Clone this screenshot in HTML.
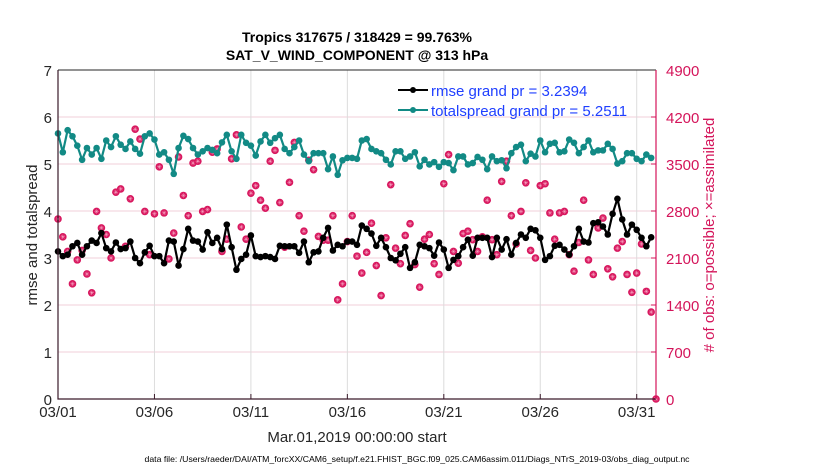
<!DOCTYPE html>
<html><head><meta charset="utf-8"><style>
body{margin:0;background:#fff;}
svg text{font-family:"Liberation Sans",Arial,sans-serif;}
</style></head><body>
<svg id="chart" width="830" height="470" viewBox="0 0 830 470" xmlns="http://www.w3.org/2000/svg">
<rect width="830" height="470" fill="#fff"/>
<text x="357" y="42" font-size="14" font-weight="bold" text-anchor="middle" fill="#000">Tropics 317675 / 318429 = 99.763%</text>
<text x="357" y="60" font-size="14" font-weight="bold" text-anchor="middle" fill="#000">SAT_V_WIND_COMPONENT @ 313 hPa</text>
<g id="grid"></g>
<g id="marks"></g>
<g id="axes"></g>
<text transform="translate(37,235) rotate(-90)" font-size="15" text-anchor="middle" fill="#262626">rmse and totalspread</text>
<text transform="translate(714,235) rotate(-90)" font-size="15" text-anchor="middle" fill="#d4145a"># of obs: o=possible; ×=assimilated</text>
<text x="357" y="442" font-size="15" text-anchor="middle" fill="#262626">Mar.01,2019 00:00:00 start</text>
<text x="417" y="462" font-size="8.4" text-anchor="middle" fill="#000" textLength="545" lengthAdjust="spacingAndGlyphs">data file: /Users/raeder/DAI/ATM_forcXX/CAM6_setup/f.e21.FHIST_BGC.f09_025.CAM6assim.011/Diags_NTrS_2019-03/obs_diag_output.nc</text>
<g>
<line x1="398" y1="90" x2="428" y2="90" stroke="#000" stroke-width="2"/>
<circle cx="413" cy="90" r="3" fill="#000"/>
<text x="431" y="96" font-size="15" fill="#1f3fff">rmse grand pr = 3.2394</text>
<line x1="398" y1="110" x2="428" y2="110" stroke="#128a85" stroke-width="2"/>
<circle cx="413" cy="110" r="3" fill="#128a85"/>
<text x="431" y="116" font-size="15" fill="#1f3fff">totalspread grand pr = 5.2511</text>
</g>
</svg>
<script>
const xTickLabels = ["03/01","03/06","03/11","03/16","03/21","03/26","03/31"];
const xTickDays = [0,5,10,15,20,25,30];
const yLeftTicks = [0,1,2,3,4,5,6,7];
const yRightTicks = [0,700,1400,2100,2800,3500,4200,4900];
const timeStepDays = 0.25;
const rmse = [3.14,3.04,3.07,3.25,3.32,3.07,3.25,3.37,3.32,3.53,3.21,3.14,3.33,3.19,3.21,3.35,3.0,2.89,3.12,3.26,
3.04,3.04,2.89,3.37,3.35,2.84,3.19,3.62,3.37,3.35,3.18,3.55,3.32,3.43,3.19,3.71,3.23,2.75,2.98,3.07,
3.48,3.04,3.02,3.04,3.02,2.98,3.26,3.25,3.25,3.25,3.11,3.35,2.91,3.12,3.14,3.43,3.64,3.16,3.28,3.25,
3.35,3.35,3.28,3.69,3.62,3.52,3.26,3.43,3.23,3.0,2.95,3.09,3.23,2.79,2.91,3.28,3.25,3.21,3.05,3.33,
3.18,2.79,2.96,3.04,3.23,3.39,3.05,3.43,3.43,3.43,3.02,3.43,3.18,3.40,3.07,3.32,3.50,3.43,3.62,3.59,
3.43,2.96,3.04,3.26,3.28,3.18,3.07,3.25,3.62,3.35,3.33,3.74,3.76,3.67,3.50,3.94,4.26,3.82,3.50,3.71,
3.60,3.43,3.25,3.44];
const totalspread = [5.65,5.25,5.72,5.59,5.39,5.09,5.34,5.2,5.34,5.11,5.5,5.36,5.59,5.41,5.32,5.48,5.32,5.22,5.59,5.65,
5.52,5.2,5.25,5.09,4.79,5.34,5.6,5.53,5.34,5.2,5.27,5.34,5.3,5.23,5.46,5.62,5.27,5.11,5.62,5.45,
5.39,5.18,5.48,5.62,5.45,5.55,5.62,5.32,5.23,5.36,5.5,5.2,5.06,5.23,5.23,5.23,4.89,5.16,4.77,5.08,
5.13,5.13,5.11,5.5,5.53,5.32,5.27,5.23,5.09,4.99,5.27,5.27,5.11,5.16,5.25,4.95,5.09,4.99,5.04,4.94,
5.04,5.02,4.87,5.16,5.16,4.99,5.02,5.15,5.09,4.89,5.16,5.06,5.08,4.91,5.23,5.36,5.41,5.06,5.22,5.16,
5.5,5.25,5.43,5.45,5.25,5.27,5.52,5.45,5.23,5.36,5.5,5.25,5.29,5.29,5.43,5.32,5.01,5.06,5.23,5.23,
5.11,5.06,5.2,5.13];
const obsCount = [2681,2415,2198,1715,2072,2212,1862,1582,2793,2548,2450,2100,3080,3129,2275,2982,4018,3871,2793,2149,
2758,3458,2772,2086,2471,3605,3031,2730,3514,3542,2793,2821,3675,3724,2198,2380,3577,3934,2562,2380,
3066,3178,2961,2842,3542,3703,2926,2261,3227,3822,2730,2499,3556,3416,2422,2366,2366,2730,1477,1715,
2345,2730,2128,1876,2184,2618,1988,1540,2401,3192,2247,2016,2436,2611,2002,1666,2380,2450,2016,1855,
3206,3640,2198,2023,2464,2499,2373,2198,2415,2961,2373,2149,3241,3542,2730,2310,2793,3220,2212,2100,
3178,3206,2772,2380,2772,2793,2149,1904,2331,2961,2072,1855,2548,2695,1939,1820,2247,2345,1855,1589,
1876,2310,1603,1295,0];

const L=58,R=656,T=70,B=399;
const xs=d=>L+(R-L)*d/31;
const yl=v=>B-(B-T)*v/7;
const yr=v=>B-(B-T)*v/4900;
const NS="http://www.w3.org/2000/svg";
function mk(tag,attrs,parent){const e=document.createElementNS(NS,tag);for(const k in attrs)e.setAttribute(k,attrs[k]);parent.appendChild(e);return e;}
const grid=document.getElementById('grid'),marks=document.getElementById('marks'),axes=document.getElementById('axes');
yLeftTicks.forEach((v,i)=>{
  const g=mk('line',{x1:L,x2:R,y1:yl(v),y2:yl(v),stroke:'#f2cfda','stroke-width':1},grid);
  
  
  const t=mk('text',{x:L-6,y:yl(v)+6,'font-size':15,'text-anchor':'end',fill:'#262626'},axes);
  t.textContent=v;
  
  
  const rt=mk('line',{x1:R-5,x2:R,y1:yr(yRightTicks[i]),y2:yr(yRightTicks[i]),stroke:'#d4145a'},axes);
  
  
  const t2=mk('text',{x:R+10,y:yr(yRightTicks[i])+6,'font-size':15,fill:'#d4145a'},axes);
  t2.textContent=yRightTicks[i];
  
  
});
xTickDays.forEach((d,i)=>{
  const g=mk('line',{x1:xs(d),x2:xs(d),y1:T,y2:B,stroke:'#dcdcdc'},grid);
  
  
  const tk=mk('line',{x1:xs(d),x2:xs(d),y1:B,y2:B-5,stroke:'#3a1a2a'},axes);
  
  
  const t=mk('text',{x:xs(d),y:B+18,'font-size':15,'text-anchor':'middle',fill:'#262626'},axes);
  t.textContent=xTickLabels[i];
  
  
});
const ax1=mk('path',{d:`M${L},${T}V${B}H${R}`,fill:'none',stroke:'#3a1a2a','stroke-width':1.2},axes);


const ax2=mk('line',{x1:L,x2:R,y1:T,y2:T,stroke:'#262626'},axes);


const ax3=mk('line',{x1:R,x2:R,y1:T,y2:B,stroke:'#d4145a','stroke-width':1.2},axes);



obsCount.forEach((v,i)=>{
  const cx=xs(i*timeStepDays),cy=yr(v);
  const g=mk('g',{},marks);
  
  
  mk('circle',{cx:cx,cy:cy,r:3.8,fill:'#d8185f'},g);
  mk('path',{d:`M${cx-2.2},${cy}H${cx+2.2}M${cx},${cy-2.2}V${cy+2.2}M${cx-1.6},${cy-1.6}L${cx+1.6},${cy+1.6}M${cx-1.6},${cy+1.6}L${cx+1.6},${cy-1.6}`,stroke:'#f7a8c4','stroke-width':0.5},g);
});
function series(vals,color,name){
  const d=vals.map((v,i)=>(i?'L':'M')+xs(i*timeStepDays).toFixed(1)+','+yl(v).toFixed(1)).join('');
  const p=mk('path',{d:d,fill:'none',stroke:color,'stroke-width':2.2,'stroke-linejoin':'round'},marks);
  
  
  vals.forEach((v,i)=>{
    const c=mk('circle',{cx:xs(i*timeStepDays),cy:yl(v),r:3.3,fill:color},marks);
    
    
  });
}
series(totalspread,'#128a85','totalspread');
series(rmse,'#000','rmse');
</script>
</body></html>
